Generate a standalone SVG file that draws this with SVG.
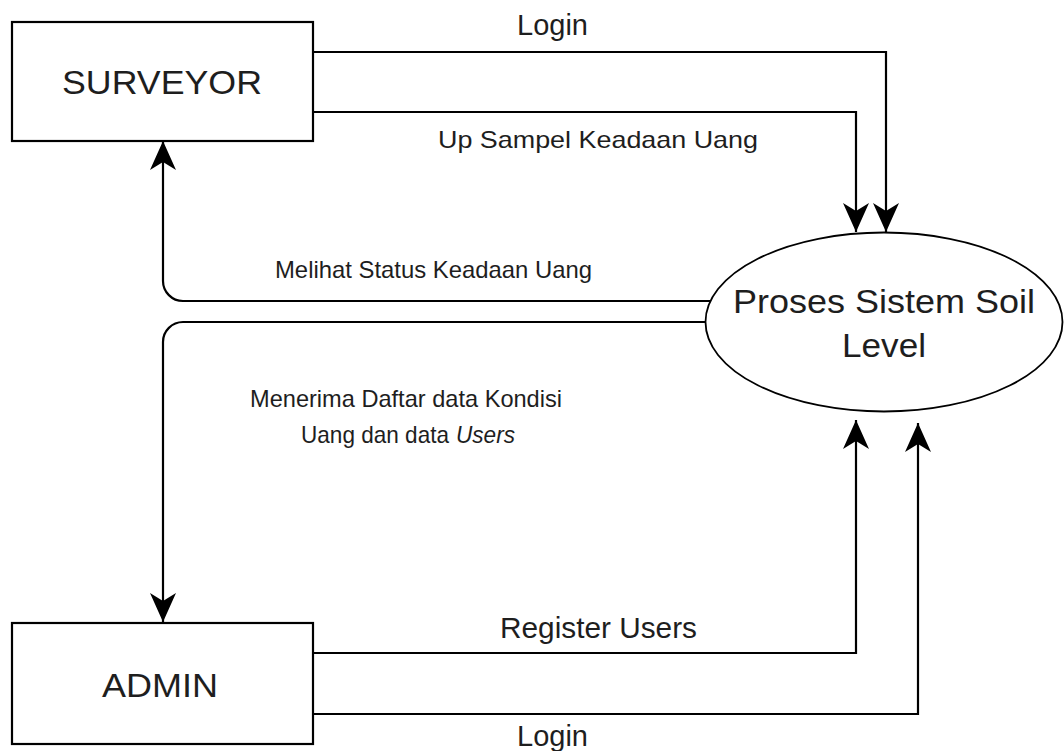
<svg xmlns="http://www.w3.org/2000/svg" width="1064" height="751" viewBox="0 0 1064 751">
  <style>
    .box { fill: #ffffff; stroke: #000000; stroke-width: 2.2; }
    .proc { fill: #ffffff; stroke: #000000; stroke-width: 1.8; }
    .flow { fill: none; stroke: #000000; stroke-width: 2.2; marker-end: url(#arrow); }
    text { font-family: "Liberation Sans", Arial, Helvetica, sans-serif; fill: #1e1e1e; }
    .node-label { font-size: 33px; }
    .flow-label { font-size: 24px; }
    .flow-label-lg { font-size: 29px; }
    .em { font-style: italic; }
  </style>
  <defs>
    <marker id="arrow" markerUnits="userSpaceOnUse" viewBox="0 0 29 26" refX="29" refY="13" markerWidth="29" markerHeight="26" orient="auto">
      <path d="M29,13 L0,0 L8,13 L0,26 Z" fill="#000000"/>
    </marker>
  </defs>

  <!-- data flows -->
  <g id="connectors">
    <path class="flow" d="M313,52 H886 V232"/>
    <path class="flow" d="M313,112 H856 V232"/>
    <path class="flow" d="M711,301 H183 A20,20 0 0 1 163,281 V141"/>
    <path class="flow" d="M706,322 H183 A20,20 0 0 0 163,342 V622"/>
    <path class="flow" d="M313,653 H856 V420"/>
    <path class="flow" d="M313,714 H918 V423"/>
  </g>

  <!-- flow labels -->
  <g id="flow-labels">
    <text class="flow-label-lg" x="517" y="35" textLength="71" lengthAdjust="spacingAndGlyphs">Login</text>
    <text class="flow-label" x="438" y="148" textLength="320" lengthAdjust="spacingAndGlyphs">Up Sampel Keadaan Uang</text>
    <text class="flow-label" x="275" y="278" textLength="317" lengthAdjust="spacingAndGlyphs">Melihat Status Keadaan Uang</text>
    <text class="flow-label" x="250" y="407" textLength="312" lengthAdjust="spacingAndGlyphs">Menerima Daftar data Kondisi</text>
    <text class="flow-label" x="301" y="443" textLength="148" lengthAdjust="spacingAndGlyphs">Uang dan data</text>
    <text class="flow-label em" x="456" y="443" textLength="59" lengthAdjust="spacingAndGlyphs">Users</text>
    <text class="flow-label-lg" x="500" y="638" textLength="197" lengthAdjust="spacingAndGlyphs">Register Users</text>
    <text class="flow-label-lg" x="517" y="746" textLength="71" lengthAdjust="spacingAndGlyphs">Login</text>
  </g>

  <!-- external entity: SURVEYOR -->
  <g id="surveyor">
    <rect class="box" x="12" y="22" width="301" height="119"/>
    <text class="node-label" x="62" y="94" textLength="200" lengthAdjust="spacingAndGlyphs">SURVEYOR</text>
  </g>

  <!-- external entity: ADMIN -->
  <g id="admin">
    <rect class="box" x="12" y="623" width="301" height="121"/>
    <text class="node-label" x="102" y="697" textLength="116" lengthAdjust="spacingAndGlyphs">ADMIN</text>
  </g>

  <!-- process -->
  <g id="proses-sistem">
    <ellipse class="proc" cx="884" cy="322" rx="178.5" ry="89.5"/>
    <text class="node-label" x="733" y="313" textLength="302" lengthAdjust="spacingAndGlyphs">Proses Sistem Soil</text>
    <text class="node-label" x="842" y="357" textLength="84" lengthAdjust="spacingAndGlyphs">Level</text>
  </g>
</svg>
